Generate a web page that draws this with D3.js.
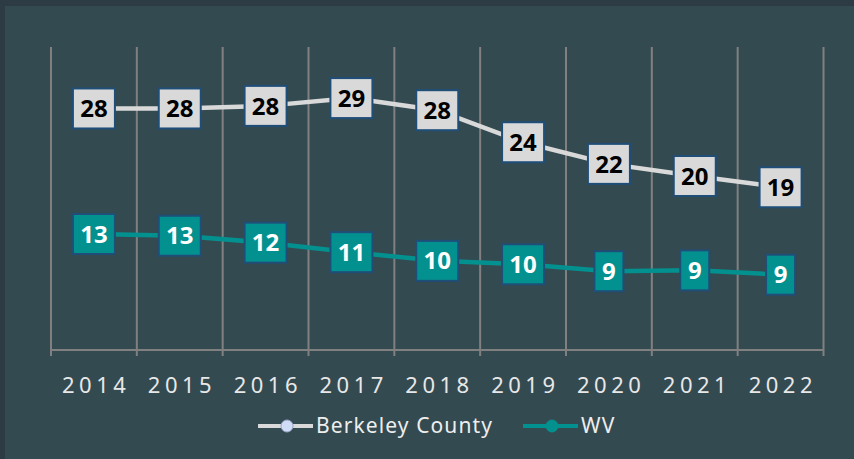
<!DOCTYPE html>
<meta charset="utf-8">
<script src="https://d3js.org/d3.v7.min.js"></script>
<style>
  body { margin: 0; background: #2d3c44; }
  svg { display: block; }
  .lbl { font-family: "Noto Sans", sans-serif; font-weight: 700; font-size: 24px; }
  .year { font-family: "Noto Sans", sans-serif; font-size: 22px; fill: #e8e8e8; letter-spacing: 4.5px; }
  .leg { font-family: "Noto Sans", sans-serif; font-size: 21px; fill: #eeeeee; letter-spacing: 1.1px; }
</style>
<body>
<script>
// data
var years = ["2014", "2015", "2016", "2017", "2018", "2019", "2020", "2021", "2022"];
var berkeley = [27.9, 27.9, 28.2, 29.1, 27.7, 24.0, 21.5, 20.1, 18.8];
var wv = [13.4, 13.2, 12.4, 11.3, 10.3, 9.9, 9.1, 9.2, 8.7];

var width = 854, height = 459;
var svg = d3.select("body").append("svg")
  .attr("width", width)
  .attr("height", height);

// panel
svg.append("rect").attr("x", 5).attr("y", 6)
  .attr("width", width - 5).attr("height", height - 6)
  .attr("fill", "#344a51");

var x = d3.scaleBand().domain(years).range([51, 823.5]);
var y = d3.scaleLinear().domain([0, 35]).range([350, 47]);

// vertical gridlines at category boundaries
var bounds = years.map(d => x(d)).concat([x.range()[1]]);
svg.append("g").selectAll("line")
  .data(bounds).enter().append("line")
  .attr("x1", d => d).attr("x2", d => d)
  .attr("y1", y(35)).attr("y2", 356)
  .attr("stroke", "#808080").attr("stroke-width", 2);

// x axis line
svg.append("line")
  .attr("x1", x.range()[0]).attr("x2", x.range()[1])
  .attr("y1", 350).attr("y2", 350)
  .attr("stroke", "#808080").attr("stroke-width", 2);

// year labels
svg.append("g").selectAll("text")
  .data(years).enter().append("text")
  .attr("class", "year")
  .attr("x", d => x(d) + x.bandwidth() / 2 + 2.25)
  .attr("y", 393)
  .attr("text-anchor", "middle")
  .text(d => d);

var line = d3.line()
  .x((d, i) => x(years[i]) + x.bandwidth() / 2)
  .y(d => y(d));

var series = [
  { name: "Berkeley County", values: berkeley, color: "#d9d9d9", text: "#000000" },
  { name: "WV", values: wv, color: "#03918f", text: "#ffffff" }
];

series.forEach(function(s) {
  svg.append("path")
    .datum(s.values)
    .attr("d", line)
    .attr("fill", "none")
    .attr("stroke", s.color)
    .attr("stroke-width", 4.5);

  var g = svg.append("g").selectAll("g")
    .data(s.values).enter().append("g")
    .attr("transform", (d, i) => "translate(" + (x(years[i]) + x.bandwidth() / 2) + "," + y(d) + ")");

  g.each(function(d) {
    var t = String(Math.round(d));
    var w = t.length > 1 ? 42 : 29;
    d3.select(this).append("rect")
      .attr("x", -w / 2).attr("y", -20)
      .attr("width", w).attr("height", 40)
      .attr("fill", s.color)
      .attr("stroke", "#1f4e79").attr("stroke-width", 2);
    d3.select(this).append("text")
      .attr("class", "lbl")
      .attr("text-anchor", "middle")
      .attr("dy", "0.36em")
      .attr("fill", s.text)
      .text(t);
  });
});

// legend
var legend = [
  { name: "Berkeley County", color: "#d9d9d9", dot: "#d0dcf5", x: 258 },
  { name: "WV", color: "#03918f", dot: "#03918f", x: 523 }
];
var lg = svg.append("g").selectAll("g")
  .data(legend).enter().append("g")
  .attr("transform", d => "translate(" + d.x + ",426)");
lg.append("line")
  .attr("x1", 0).attr("x2", 55)
  .attr("stroke", d => d.color).attr("stroke-width", 4);
lg.append("circle")
  .attr("cx", 29).attr("r", 6)
  .attr("fill", d => d.dot)
  .attr("stroke", d => d.name === "WV" ? d.dot : "#9aa6c8").attr("stroke-width", 1);
lg.append("text")
  .attr("class", "leg")
  .attr("x", 58).attr("dy", "0.35em")
  .text(d => d.name);
</script>
</body>
